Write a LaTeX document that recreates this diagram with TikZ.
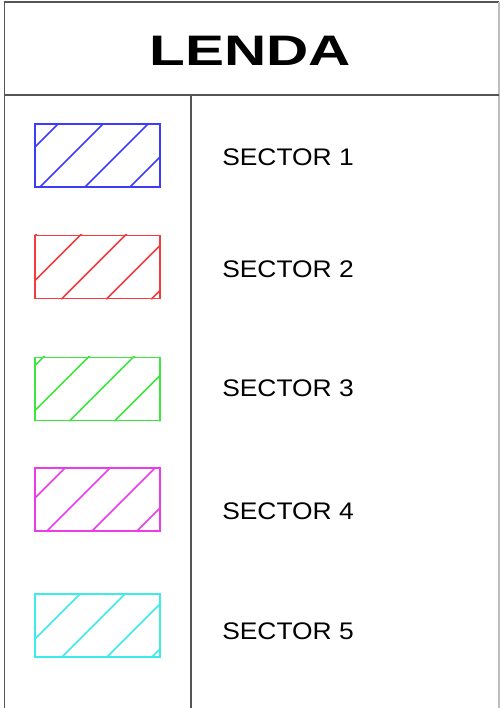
\documentclass[tikz,border=0pt]{standalone}
\usepackage{fontspec}
\setmainfont{Liberation Sans}
\newfontfamily\titlefont{Liberation Sans}[FakeStretch=1.37]
\newfontfamily\labelfont{Liberation Sans}[FakeStretch=1.1]
\usepackage{xcolor}
\usepackage{tikz}
\usetikzlibrary{positioning}
\definecolor{sect1}{RGB}{60,60,250}
\definecolor{sect2}{RGB}{245,60,60}
\definecolor{sect3}{RGB}{60,230,60}
\definecolor{sect4}{RGB}{235,60,235}
\definecolor{sect5}{RGB}{60,235,235}
\definecolor{framegray}{RGB}{85,85,85}
\definecolor{edgegray}{RGB}{190,190,190}

\begin{document}
\begin{tikzpicture}[
  x=0.75pt, y=-0.75pt,
  frame/.style={draw=framegray,line width=1.1pt},
  swatch/.style={draw,line width=1.1pt,minimum width=93.75pt,minimum height=47.25pt,inner sep=0pt},
  hatch/.style={line width=1.2pt},
  label/.style={anchor=west,inner sep=0pt,font=\labelfont\fontsize{18}{20}\selectfont},
  title/.style={inner sep=0pt,font=\titlefont\bfseries\fontsize{32}{36}\selectfont},
]
\useasboundingbox (0,0) rectangle (500,708);

% table frame
\draw[frame] (4.5,708) -- (4.5,2) -- (499,2);
\draw[draw=edgegray,line width=1.1pt] (499,2) -- (499,708);
\draw[frame] (4.5,95) -- (499,95);
\draw[frame] (191,95) -- (191,708);

\node[title] (head) at (250,50.5) {LENDA};

% swatches and labels
\foreach \i/\yc/\yt/\ph in {1/155.5/157/5, 2/267/269/27, 3/389/388/35, 4/499.5/511/12, 5/625.5/631/27} {
  \node[swatch,draw=sect\i] (sw\i) at (97.5,\yc) {};
  \begin{scope}
    \clip (sw\i.south west) rectangle (sw\i.north east);
    \foreach \k in {-2,...,3} {
      \draw[hatch,sect\i] ([xshift={(\ph+45*\k)*0.75pt}]sw\i.south west) -- ++(80,-80);
    }
  \end{scope}
  \node[label] (lab\i) at (222,\yt) {SECTOR \i};
}

\end{tikzpicture}
\end{document}
